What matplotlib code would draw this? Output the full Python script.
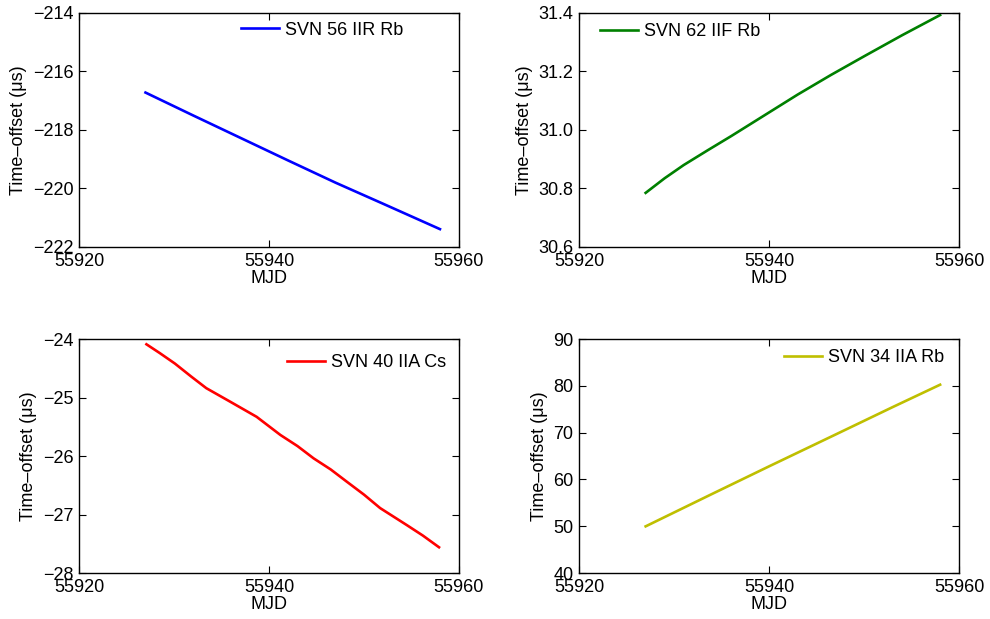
import numpy as np
import matplotlib
matplotlib.use("Agg")
import matplotlib.pyplot as plt
from matplotlib.ticker import FuncFormatter

plt.rcParams['font.family'] = ['Liberation Sans', 'DejaVu Sans']

# values
mjd_56 = [55927, 55932, 55937, 55942, 55947, 55952, 55958]
svn56 = [-216.72, -217.50, -218.27, -219.04, -219.80, -220.52, -221.39]

mjd_62 = [55927.0, 55929.0, 55931.0, 55933.5, 55936.0, 55939.5, 55943.0, 55946.5, 55950.0, 55954.0, 55958.0]
svn62 = [30.785, 30.835, 30.880, 30.930, 30.979, 31.050, 31.121, 31.188, 31.252, 31.324, 31.393]

mjd_40 = [55927.1, 55928.5, 55930.1, 55931.8, 55933.4, 55935.9, 55938.7, 55941.2, 55943.0,
          55944.7, 55946.5, 55948.2, 55950.0, 55951.7, 55954.5, 55956.2, 55957.9]
svn40 = [-24.09, -24.24, -24.42, -24.64, -24.84, -25.07, -25.33, -25.64, -25.83,
         -26.04, -26.23, -26.44, -26.66, -26.89, -27.18, -27.36, -27.56]

mjd_34 = [55927, 55934, 55940, 55947, 55953, 55958]
svn34 = [49.97, 56.9, 62.8, 69.6, 75.45, 80.24]

panels = [
    (mjd_56, svn56, 'SVN 56 IIR Rb', (0, 0, 1), (-222, -214), [-222, -220, -218, -216, -214], (0.426, 0.927), 0),
    (mjd_62, svn62, 'SVN 62 IIF Rb', (0, 0.5, 0), (30.6, 31.4), [30.6, 30.8, 31.0, 31.2, 31.4], (0.055, 0.919), 1),
    (mjd_40, svn40, 'SVN 40 IIA Cs', (1, 0, 0), (-28, -24), [-28, -27, -26, -25, -24], (0.547, 0.900), 0),
    (mjd_34, svn34, 'SVN 34 IIA Rb', (0.75, 0.75, 0), (40, 90), [40, 50, 60, 70, 80, 90], (0.539, 0.919), 0),
]

positions = [
    [0.0798, 0.601, 0.3838, 0.378],
    [0.585, 0.601, 0.3838, 0.378],
    [0.0798, 0.0743, 0.3838, 0.378],
    [0.585, 0.0743, 0.3838, 0.378],
]

fig = plt.figure(figsize=(9.9, 6.19), dpi=100)

for (x, y, lab, col, ylim, yt, anchor, dec), pos in zip(panels, positions):
    ax = fig.add_axes(pos)
    ax.plot(x, y, color=col, lw=1.9, label=lab)
    ax.set_xlim(55920, 55960)
    ax.set_xticks([55920, 55940, 55960])
    ax.set_ylim(*ylim)
    ax.set_yticks(yt)
    ax.yaxis.set_major_formatter(FuncFormatter(
        lambda v, p, d=dec: ('%.*f' % (d, v)).replace('-', '\u2212')))
    ax.tick_params(direction='in', top=True, right=True, labelsize=13, length=5, width=0.8, pad=4)
    for s in ax.spines.values():
        s.set_linewidth(1.0)
    ax.set_xlabel('MJD', fontsize=13, labelpad=0)
    ax.set_ylabel('Time–offset (μs)', fontsize=13, labelpad=4)
    ax.legend(loc='center left', bbox_to_anchor=anchor, frameon=False, fontsize=13,
              handlelength=2.1, handletextpad=0.35, borderpad=0, borderaxespad=0)

fig.savefig('out.png', dpi=100)
